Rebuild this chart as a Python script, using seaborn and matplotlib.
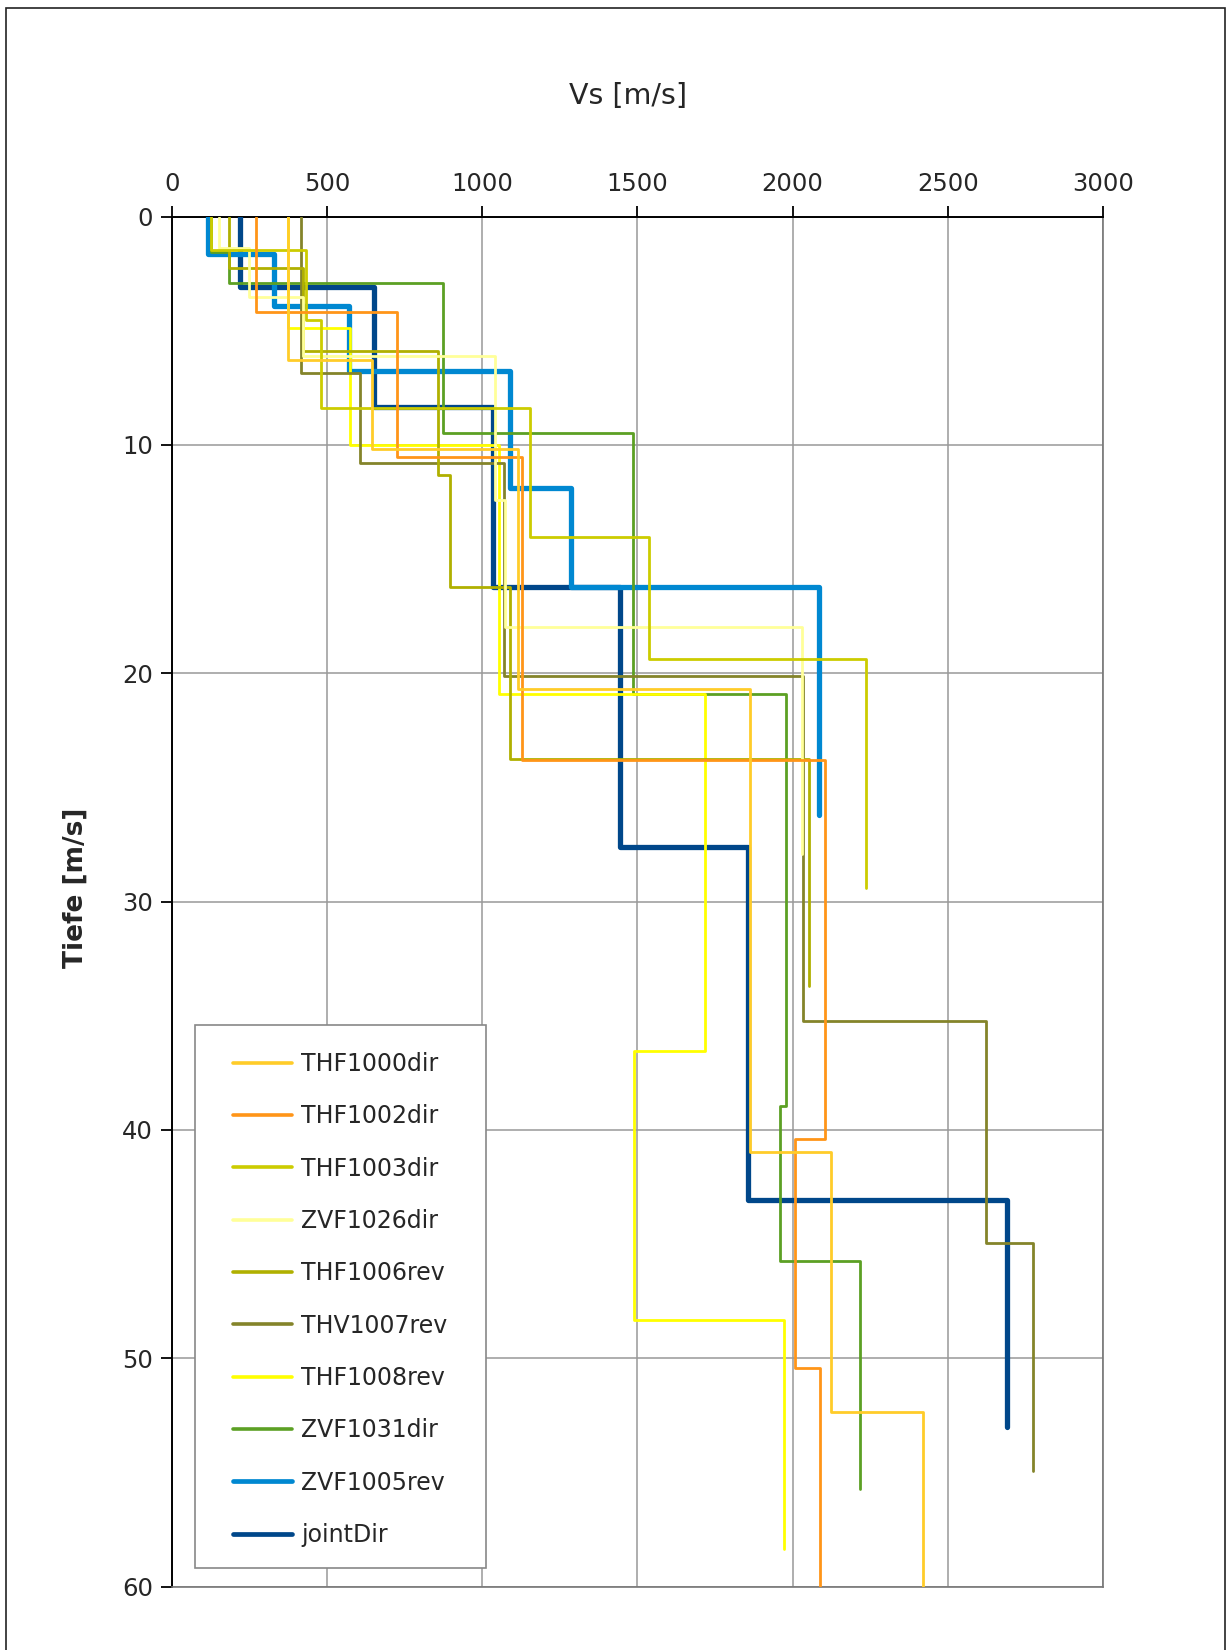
import matplotlib
matplotlib.use("Agg")
import matplotlib.pyplot as plt
import seaborn as sns
from matplotlib.patches import Rectangle

# Layer boundaries (depth, m) and layer shear-wave velocities (m/s) per profile
thf1000dir_depth = [0, 6.28, 10.19, 20.7, 40.95, 52.34, 60]
thf1000dir_vs = [376, 644, 1117, 1863, 2124, 2419]

thf1002dir_depth = [0, 4.19, 10.51, 23.8, 40.41, 50.44, 60]
thf1002dir_vs = [272, 725, 1128, 2105, 2008, 2089]

thf1003dir_depth = [0, 1.46, 4.53, 8.39, 14.02, 19.39, 29.42]
thf1003dir_vs = [128, 433, 480, 1154, 1539, 2237]

zvf1026dir_depth = [0, 1.39, 3.5, 6.09, 12.41, 17.96, 27.9]
zvf1026dir_vs = [151, 249, 424, 1042, 1074, 2030]

thf1006rev_depth = [0, 2.26, 5.88, 11.32, 16.2, 23.75, 33.7]
thf1006rev_vs = [186, 424, 859, 897, 1090, 2054]

thv1007rev_depth = [0, 6.86, 10.8, 20.1, 35.23, 44.94, 54.93]
thv1007rev_vs = [415, 608, 1071, 2033, 2622, 2773]

thf1008rev_depth = [0, 4.89, 10.0, 20.92, 36.53, 48.33, 58.33]
thf1008rev_vs = [376, 575, 1055, 1718, 1490, 1973]

zvf1031dir_depth = [0, 1.55, 2.92, 9.49, 20.9, 38.94, 45.73, 55.73]
zvf1031dir_vs = [125, 186, 873, 1487, 1978, 1960, 2217]

zvf1005rev_depth = [0, 1.65, 3.9, 6.75, 11.9, 16.2, 26.2]
zvf1005rev_vs = [116, 331, 571, 1090, 1286, 2086]

jointdir_depth = [0, 3.07, 8.32, 16.2, 27.6, 43.05, 53.0]
jointdir_vs = [220, 650, 1034, 1443, 1857, 2692]

series_names = ["THF1000dir", "THF1002dir", "THF1003dir", "ZVF1026dir", "THF1006rev",
                "THV1007rev", "THF1008rev", "ZVF1031dir", "ZVF1005rev", "jointDir"]
series_colors = ["#FFCC29", "#FF9518", "#CCCC00", "#FFFF99", "#B0B000",
                 "#84842A", "#FFFF00", "#5CA024", "#0088D1", "#00478A"]
series_widths = [2.0, 2.0, 2.0, 2.0, 2.0, 2.0, 2.0, 2.0, 3.8, 3.8]

profiles = [
    (thf1000dir_depth, thf1000dir_vs),
    (thf1002dir_depth, thf1002dir_vs),
    (thf1003dir_depth, thf1003dir_vs),
    (zvf1026dir_depth, zvf1026dir_vs),
    (thf1006rev_depth, thf1006rev_vs),
    (thv1007rev_depth, thv1007rev_vs),
    (thf1008rev_depth, thf1008rev_vs),
    (zvf1031dir_depth, zvf1031dir_vs),
    (zvf1005rev_depth, zvf1005rev_vs),
    (jointdir_depth, jointdir_vs),
]


def step_path(depth, vs):
    """Turn layer boundaries and layer velocities into a stepped profile."""
    xs, ys = [], []
    for i, v in enumerate(vs):
        xs += [v, v]
        ys += [depth[i], depth[i + 1]]
    return xs, ys


sns.set_style("white")
plt.rcParams["font.family"] = ["DejaVu Sans"]

W, H = 1230, 1650
fig = plt.figure(figsize=(W / 100, H / 100), dpi=100)
ax = fig.add_axes([0.1396, 0.0384, 0.7572, 0.8303])

handles = {}
n = len(profiles)
# Later profiles in the list are drawn underneath earlier ones
for idx in range(n - 1, -1, -1):
    depth, vs = profiles[idx]
    xs, ys = step_path(depth, vs)
    sns.lineplot(x=xs, y=ys, sort=False, estimator=None, ax=ax,
                 color=series_colors[idx], linewidth=series_widths[idx],
                 label=series_names[idx], zorder=3 + (n - idx) * 0.1)
    handles[series_names[idx]] = ax.lines[-1]

ax.set_xlim(0, 3000)
ax.set_ylim(60, 0)
ax.set_xticks(range(0, 3001, 500))
ax.set_yticks(range(0, 61, 10))
ax.xaxis.tick_top()
ax.xaxis.set_label_position("top")
ax.grid(True, color="#999999", linewidth=1.1)
ax.set_axisbelow(True)

ax.tick_params(axis="x", top=True, bottom=False, length=8, width=1.3,
               color="black", labelsize=17.5, pad=7)
ax.tick_params(axis="y", left=True, length=8, width=1.3,
               color="black", labelsize=17.5, pad=5.5)

for side in ("top", "left"):
    ax.spines[side].set_color("black")
    ax.spines[side].set_linewidth(1.4)
for side in ("bottom", "right"):
    ax.spines[side].set_color("#777777")
    ax.spines[side].set_linewidth(1.2)

ax.set_xlabel("Vs [m/s]", fontsize=20.5, labelpad=48.5)
ax.xaxis.label.set_x(0.49)
ax.set_ylabel("Tiefe [m/s]", fontsize=19, fontweight="bold", labelpad=24)
ax.yaxis.label.set_y(0.51)

# Legend box (frame drawn separately so the inner padding can differ per side)
box_l, box_t, box_r, box_b = 195, 1025, 486, 1568
ax.add_patch(Rectangle((box_l / W, 1 - box_b / H), (box_r - box_l) / W, (box_b - box_t) / H,
                       transform=fig.transFigure, facecolor="white",
                       edgecolor="#888888", linewidth=1.2, zorder=4.9))
leg = ax.legend([handles[nm] for nm in series_names], series_names,
                loc="upper left", bbox_to_anchor=(232.5 / W, 1 - 1052 / H),
                bbox_transform=fig.transFigure, borderaxespad=0, borderpad=0,
                fontsize=17, frameon=False, labelspacing=1.2, handlelength=2.5,
                handletextpad=0.4)
leg.set_zorder(5)
for line, w in zip(leg.get_lines(), series_widths):
    line.set_linewidth(2.6 if w < 3 else 3.4)

# Outer frame around the whole chart area
fig.add_artist(Rectangle((6 / W, -0.01), (1225 - 6) / W, 1 - 8 / H + 0.01,
                         transform=fig.transFigure, fill=False,
                         edgecolor="#222222", linewidth=1.2, clip_on=False))

fig.savefig("out.png", dpi=100)
